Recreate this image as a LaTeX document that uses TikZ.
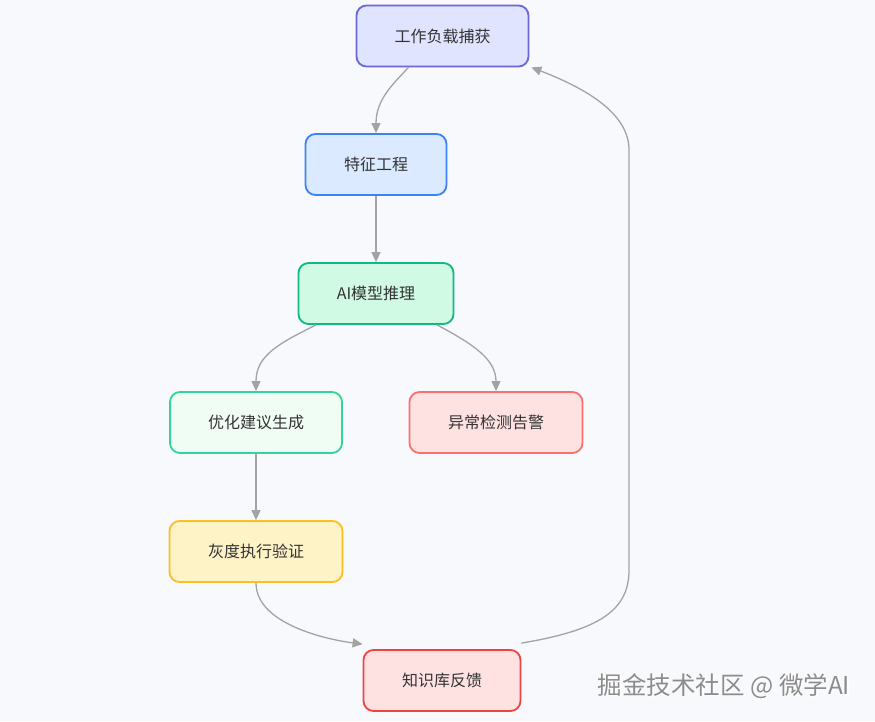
\documentclass[tikz,border=0pt]{standalone}
\usepackage{fontspec}
\newfontfamily\cjk{Noto Sans CJK SC}
\usetikzlibrary{arrows.meta,calc}
\definecolor{bgc}{HTML}{F8F9FC}
\definecolor{edgec}{HTML}{A3A3A3}
\definecolor{txt}{HTML}{333333}
\definecolor{fA}{HTML}{E0E4FF}\definecolor{dA}{HTML}{6B66DA}
\definecolor{fB}{HTML}{DBEAFE}\definecolor{dB}{HTML}{3B82F6}
\definecolor{fC}{HTML}{D1FAE5}\definecolor{dC}{HTML}{10B981}
\definecolor{fD}{HTML}{F0FDF4}\definecolor{dD}{HTML}{34D399}
\definecolor{fE}{HTML}{FEE2E2}\definecolor{dE}{HTML}{F87171}
\definecolor{fF}{HTML}{FEF3C7}\definecolor{dF}{HTML}{FBBF24}
\definecolor{fG}{HTML}{FEE2E2}\definecolor{dG}{HTML}{EF4444}
\tikzset{
  box/.style={draw, line width=1.8pt, rounded corners=10pt, inner sep=0pt,
    minimum height=61pt, text=txt, font=\cjk\fontsize{16}{19}\selectfont},
  flow/.style={draw=edgec, line width=1.3pt, -{Triangle[length=10pt,width=9pt,fill=edgec,color=edgec]}},
  wm/.style={font=\cjk\fontsize{24.5}{28}\selectfont, inner sep=0pt}
}
\begin{document}
\begin{tikzpicture}[x=1pt,y=-1pt]
\fill[bgc] (0,0) rectangle (875,721);
\useasboundingbox (0,0) rectangle (875,721);
\node[box, fill=fA, draw=dA, minimum width=172pt] (n1) at (442.5,36) {工作负载捕获};
\node[box, fill=fB, draw=dB, minimum width=141pt] (n2) at (376,164.5) {特征工程};
\node[box, fill=fC, draw=dC, minimum width=155pt] (n3) at (376,293.5) {AI模型推理};
\node[box, fill=fD, draw=dD, minimum width=172pt] (n4) at (256,422.5) {优化建议生成};
\node[box, fill=fE, draw=dE, minimum width=173pt] (n5) at (496,422.5) {异常检测告警};
\node[box, fill=fF, draw=dF, minimum width=173pt] (n6) at (256,551.5) {灰度执行验证};
\node[box, fill=fG, draw=dG, minimum width=157pt] (n7) at (442,680.5) {知识库反馈};

\draw[flow] ([xshift=-34pt]n1.south) .. controls (392,85) and (376,100) .. (n2.north);
\draw[flow] (n2.south) -- (n3.north);
\draw[flow] ([xshift=-60pt]n3.south) .. controls (280,343) and (256,355) .. (n4.north);
\draw[flow] ([xshift=61pt]n3.south) .. controls (475,345) and (496,360) .. (n5.north);
\draw[flow] (n4.south) -- (n6.north);
\draw[flow] (n6.south) .. controls (256,625) and (330,640) .. ([yshift=5pt]n7.north west);
\draw[flow] ([yshift=6pt]n7.north east) .. controls (600,630) and (629,610) .. (629,570)
   -- (629,150) .. controls (629,115) and (590,90) .. ([xshift=2pt]n1.south east);

\node[wm, text=white] (wmb) at (725.5,687.5) {掘金技术社区 @ 微学AI};
\node[wm, text=black!45] (wmt) at (724,686) {掘金技术社区 @ 微学AI};
\end{tikzpicture}
\end{document}
